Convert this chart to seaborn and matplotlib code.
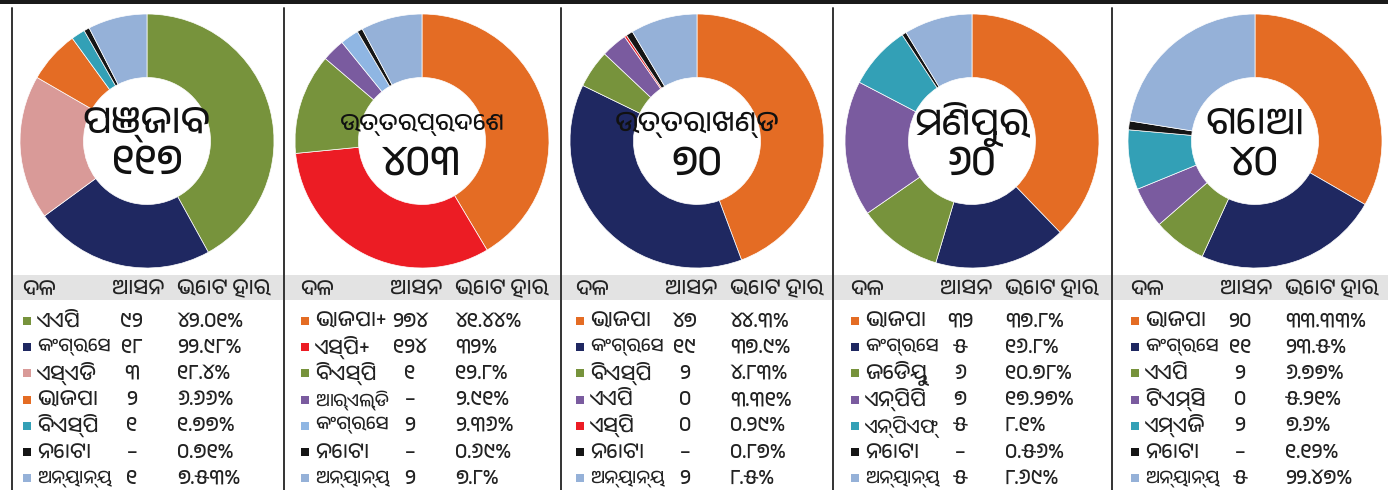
import numpy as np
import matplotlib
matplotlib.use("Agg")
import matplotlib.pyplot as plt
from matplotlib import font_manager
import seaborn as sns

# ---- data ----
states = ["ପଞ୍ଜାବ", "ଉତ୍ତରପ୍ରଦେଶ", "ଉତ୍ତରାଖଣ୍ଡ", "ମଣିପୁର", "ଗୋଆ"]
totals = ["117", "403", "70", "60", "40"]

header = ["ଦଳ", "ଆସନ", "ଭୋଟ ହାର"]

punjab_parties = ["ଏଏପି", "କଂଗ୍ରେସ", "ଏସ୍ଏଡି", "ଭାଜପା", "ବିଏସ୍ପି", "ନୋଟା", "ଅନ୍ୟାନ୍ୟ"]
punjab_seats = ["92", "18", "3", "2", "1", "–", "1"]
punjab_votes = ["42.01", "22.98", "18.4", "6.66", "1.77", "0.71", "7.53"]

up_parties = ["ଭାଜପା+", "ଏସ୍ପି+", "ବିଏସ୍ପି", "ଆର୍ଏଲ୍ଡି", "କଂଗ୍ରେସ", "ନୋଟା", "ଅନ୍ୟାନ୍ୟ"]
up_seats = ["274", "124", "1", "–", "2", "–", "2"]
up_votes = ["41.44", "32", "12.8", "2.91", "2.36", "0.69", "7.8"]

uk_parties = ["ଭାଜପା", "କଂଗ୍ରେସ", "ବିଏସ୍ପି", "ଏଏପି", "ଏସ୍ପି", "ନୋଟା", "ଅନ୍ୟାନ୍ୟ"]
uk_seats = ["47", "19", "2", "0", "0", "–", "2"]
uk_votes = ["44.3", "37.9", "4.83", "3.31", "0.29", "0.87", "8.5"]

manipur_parties = ["ଭାଜପା", "କଂଗ୍ରେସ", "ଜେଡିୟୁ", "ଏନ୍ପିପି", "ଏନ୍ପିଏଫ୍", "ନୋଟା", "ଅନ୍ୟାନ୍ୟ"]
manipur_seats = ["32", "5", "6", "7", "5", "–", "5"]
manipur_votes = ["37.8", "16.8", "10.78", "17.27", "8.1", "0.56", "8.69"]

goa_parties = ["ଭାଜପା", "କଂଗ୍ରେସ", "ଏଏପି", "ଟିଏମ୍ସି", "ଏମ୍ଏଜି", "ନୋଟା", "ଅନ୍ୟାନ୍ୟ"]
goa_seats = ["20", "11", "2", "0", "2", "–", "5"]
goa_votes = ["33.33", "23.5", "6.77", "5.21", "7.6", "1.12", "22.47"]

# ---- colours ----
GREEN, NAVY, PINK, ORANGE = "#77933c", "#1f2861", "#d99a98", "#e46c24"
TEAL, BLACK, OTHERS, RED = "#33a0b6", "#151515", "#95b1d8", "#ec1c24"
PURPLE, LBLUE = "#7a5b9f", "#8fb6e3"

state_colors = [
    [GREEN, NAVY, PINK, ORANGE, TEAL, BLACK, OTHERS],
    [ORANGE, RED, GREEN, PURPLE, LBLUE, BLACK, OTHERS],
    [ORANGE, NAVY, GREEN, PURPLE, RED, BLACK, OTHERS],
    [ORANGE, NAVY, GREEN, PURPLE, TEAL, BLACK, OTHERS],
    [ORANGE, NAVY, GREEN, PURPLE, TEAL, BLACK, OTHERS],
]
all_parties = [punjab_parties, up_parties, uk_parties, manipur_parties, goa_parties]
all_seats = [punjab_seats, up_seats, uk_seats, manipur_seats, goa_seats]
all_votes = [punjab_votes, up_votes, uk_votes, manipur_votes, goa_votes]

ODIA = str.maketrans("0123456789", "୦୧୨୩୪୫୬୭୮୯")

sns.set_theme(style="white")
odia_fonts = sorted({f.name for f in font_manager.fontManager.ttflist
                     if "Oriya" in f.name or "Odia" in f.name})
plt.rcParams["font.family"] = odia_fonts + ["Noto Sans", "DejaVu Sans"]

W, H = 1388, 490
fig = plt.figure(figsize=(W / 100, H / 100), dpi=100)
fig.patch.set_facecolor("white")
renderer = fig.canvas.get_renderer()


def fit(txt, maxw):
    # shrink a text until it is no wider than maxw pixels
    w = txt.get_window_extent(renderer).width
    if w > maxw:
        txt.set_fontsize(txt.get_fontsize() * maxw / w)


bg = fig.add_axes([0, 0, 1, 1])
bg.set_xlim(0, W)
bg.set_ylim(H, 0)
bg.axis("off")

# frame lines and header band
bg.fill_between([0, W], 0, 4, color="#1a1a1a", lw=0)
bg.fill_between([12, W], 275, 300, color="#e3e3e3", lw=0)
for x in [12, 284, 561, 833, 1112]:
    bg.plot([x, x], [8, H], color="#333333", lw=1.4)

centers = [147, 422, 697, 972, 1255]
cy, r = 141, 127
lefts = [22, 300, 575, 850, 1130]
row_y0, row_dy = 321, 26.2

for i, state in enumerate(states):
    vals = [float(v) for v in all_votes[i]]
    cx = centers[i]
    ax = fig.add_axes([(cx - r) / W, 1 - (cy + r) / H, 2 * r / W, 2 * r / H])
    ax.pie(vals, colors=state_colors[i], startangle=90, counterclock=False,
           wedgeprops=dict(width=0.5, edgecolor="white", linewidth=0.5))
    ax.set_xlim(-1, 1)
    ax.set_ylim(-1, 1)
    ax.axis("off")
    t = ax.text(0, 0.13, state, ha="center", va="center", fontsize=27,
                fontweight="bold", color="#111111")
    fit(t, 165)
    ax.text(0, -0.18, totals[i].translate(ODIA), ha="center", va="center",
            fontsize=30, fontweight="bold", color="#111111")

    # table
    lx = lefts[i]
    bg.text(lx, 289, header[0], fontsize=15, va="center", color="#222222")
    bg.text(lx + 90, 289, header[1], fontsize=15, va="center", color="#222222")
    bg.text(lx + 155, 289, header[2], fontsize=15, va="center", color="#222222")
    for j, party in enumerate(all_parties[i]):
        y = row_y0 + j * row_dy
        bg.scatter([lx + 5], [y], marker="s", s=30, color=state_colors[i][j], lw=0)
        t = bg.text(lx + 15, y, party, fontsize=15, va="center", color="#222222")
        fit(t, 74)
        bg.text(lx + 110, y, all_seats[i][j].translate(ODIA), fontsize=15,
                va="center", ha="center", color="#222222")
        bg.text(lx + 155, y, (all_votes[i][j] + "%").translate(ODIA), fontsize=15,
                va="center", color="#222222")

fig.savefig("out.png", dpi=100, facecolor="white")
